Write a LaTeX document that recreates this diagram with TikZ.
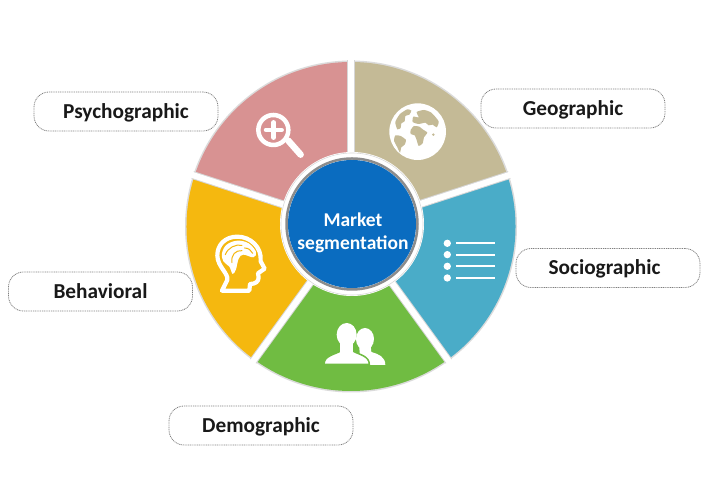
\documentclass[tikz,border=0pt]{standalone}
\usepackage{fontspec}
\setmainfont{Carlito}
\usepackage{xcolor}
\definecolor{segpink}{HTML}{D89292}
\definecolor{segtan}{HTML}{C4BA96}
\definecolor{segteal}{HTML}{4AACC8}
\definecolor{seggreen}{HTML}{70BC42}
\definecolor{segyellow}{HTML}{F5B80F}
\definecolor{hubblue}{HTML}{0A6CC0}
\newcommand{\wheelx}{351}
\newcommand{\wheely}{267.5}
\newcommand{\wheelr}{164.5}
\newcommand{\pillw}{184pt}
\newcommand{\pillh}{39pt}
\newcommand{\hubnd}{(352,270)}
\tikzset{
  x=1pt, y=1pt,
  pill/.style={draw=black!50, line width=0.8pt, dash pattern=on 1pt off 0.8pt,
    rounded corners=15pt, minimum width=\pillw, minimum height=\pillh,
    inner sep=0pt, text height=17pt, text depth=3pt,
    font=\fontsize{21.3}{24}\selectfont\bfseries, text=black!90},
  icon/.style={draw=white, line cap=round, line join=round},
  zoomed/.style={x=0.3333pt, y=-0.3333pt}
}
\begin{document}
\begin{tikzpicture}
    \useasboundingbox (0,0) rectangle (713,494);

    % wheel sectors
    \begin{scope}[shift={(\wheelx,\wheely)}]
      \fill[black!14] (0,0) circle (\wheelr+1.5);
      \foreach \angs/\ange/\segcol in {90/162/segpink, 18/90/segtan,
          -54/18/segteal, -126/-54/seggreen, 162/234/segyellow} {
        \fill[\segcol] (0,0) -- (\angs:\wheelr) arc[start angle=\angs,
          end angle=\ange, radius=\wheelr] -- cycle;
      }
      \foreach \angs in {90,162,234,306,18} {
        \draw[black!16, line width=8pt] (0,0) -- (\angs:\wheelr+2);
        \draw[white, line width=6pt] (0,0) -- (\angs:\wheelr+3);
      }
    \end{scope}

    % hub
    \fill[white] \hubnd circle (72);
    \draw[black!15, line width=0.6pt] \hubnd circle (71);
    \draw[black!45, line width=2.5pt] \hubnd circle (65.5);
    \fill[hubblue] \hubnd circle (64);
    \node (hub) at (353,261) [align=center, text=white,
      font=\fontsize{19.5}{23}\selectfont\bfseries] {Market\\segmentation};

    % labels
    \node (psycho) at (126,382.5) [pill] {Psychographic};
    \node (geo) at (573,385.5) [pill] {Geographic};
    \node (socio) at (608,226) [pill] {Sociographic\hspace*{7pt}};
    \node (behav) at (100.5,202.5) [pill] {Behavioral};
    \node (demo) at (261,68.5) [pill] {Demographic};

    \begin{scope}[shift={(0,494)}, y=-1pt]
      % magnifier
      \begin{scope}[shift={(250,100)}, zoomed]
        \draw[icon, line width=4.5pt] (70,90) circle (45);
        \draw[icon, line width=4.5pt] (48,90) -- (95,90) (71,67) -- (71,113);
        \draw[icon, line width=6.5pt] (115,122) -- (152,164);
      \end{scope}
      % globe
      \begin{scope}[shift={(370,90)}, zoomed]
        \fill[white] (143,125) circle (85);
        \fill[segtan] plot[smooth cycle, tension=0.35] coordinates {
          (76,96) (90,72) (112,58) (124,62) (118,74) (106,78) (104,94) (94,100)
          (92,114) (82,118)};
        \fill[segtan] plot[smooth cycle, tension=0.35] coordinates {
          (76,136) (92,138) (108,150) (104,164) (94,172) (90,188) (82,172) (72,152)};
        \fill[segtan] plot[smooth cycle, tension=0.35] coordinates {
          (122,120) (132,108) (148,110) (158,118) (172,128) (162,142) (158,160)
          (146,168) (140,150) (134,136) (122,132)};
        \fill[segtan] plot[smooth cycle, tension=0.35] coordinates {
          (128,96) (130,80) (146,82) (140,66) (162,60) (184,68) (206,94) (200,112)
          (188,104) (176,106) (166,98) (146,102)};
        \fill[segtan] (190,134) circle (4);
      \end{scope}
      % list
      \begin{scope}[shift={(180,50)}, zoomed]
        \foreach \rowy in {580,614,649,684} {
          \fill[white] (802,\rowy) circle (11);
          \draw[icon, line width=1.8pt, line cap=butt] (828,\rowy) -- (945,\rowy);
        }
      \end{scope}
      % people
      \begin{scope}[shift={(310,310)}, zoomed]
        \fill[white] (165,87) ellipse (27 and 33);
        \fill[white] (148,105) -- (182,105) -- (184,126)
          .. controls (205,132) and (226,140) .. (226,165)
          -- (150,165) -- cycle;
        \draw[seggreen, line width=1.5pt, fill=white] (42,163)
          .. controls (42,138) and (72,134) .. (90,124) -- (130,124)
          .. controls (148,134) and (178,138) .. (178,163) -- cycle;
        \fill[white] (110,74) ellipse (30 and 35);
        \fill[white] (90,95) rectangle (130,132);
      \end{scope}
      % head
      \begin{scope}[shift={(200,220)}, zoomed]
        \draw[icon, line width=4.2pt] (66,212) -- (148,212) -- (150,192)
          .. controls (165,192) and (176,186) .. (176,172)
          -- (174,160) -- (194,146) -- (182,124)
          .. controls (186,80) and (150,50) .. (112,50)
          .. controls (76,50) and (52,74) .. (52,106)
          .. controls (52,140) and (86,160) .. (82,180) -- cycle;
        \fill[white] plot[smooth cycle, tension=0.6] coordinates {
          (66,100) (80,74) (112,62) (146,70) (168,96) (160,112) (130,104)
          (116,116) (108,148) (98,162) (88,140) (70,124)};
        \draw[segyellow, line width=1pt, line cap=round] (76,104) .. controls (84,82) and (108,72) .. (126,76)
          (96,128) .. controls (92,104) and (108,90) .. (126,92)
          (134,84) .. controls (146,84) and (154,92) .. (158,100);
      \end{scope}
    \end{scope}
  \end{tikzpicture}
\end{document}
